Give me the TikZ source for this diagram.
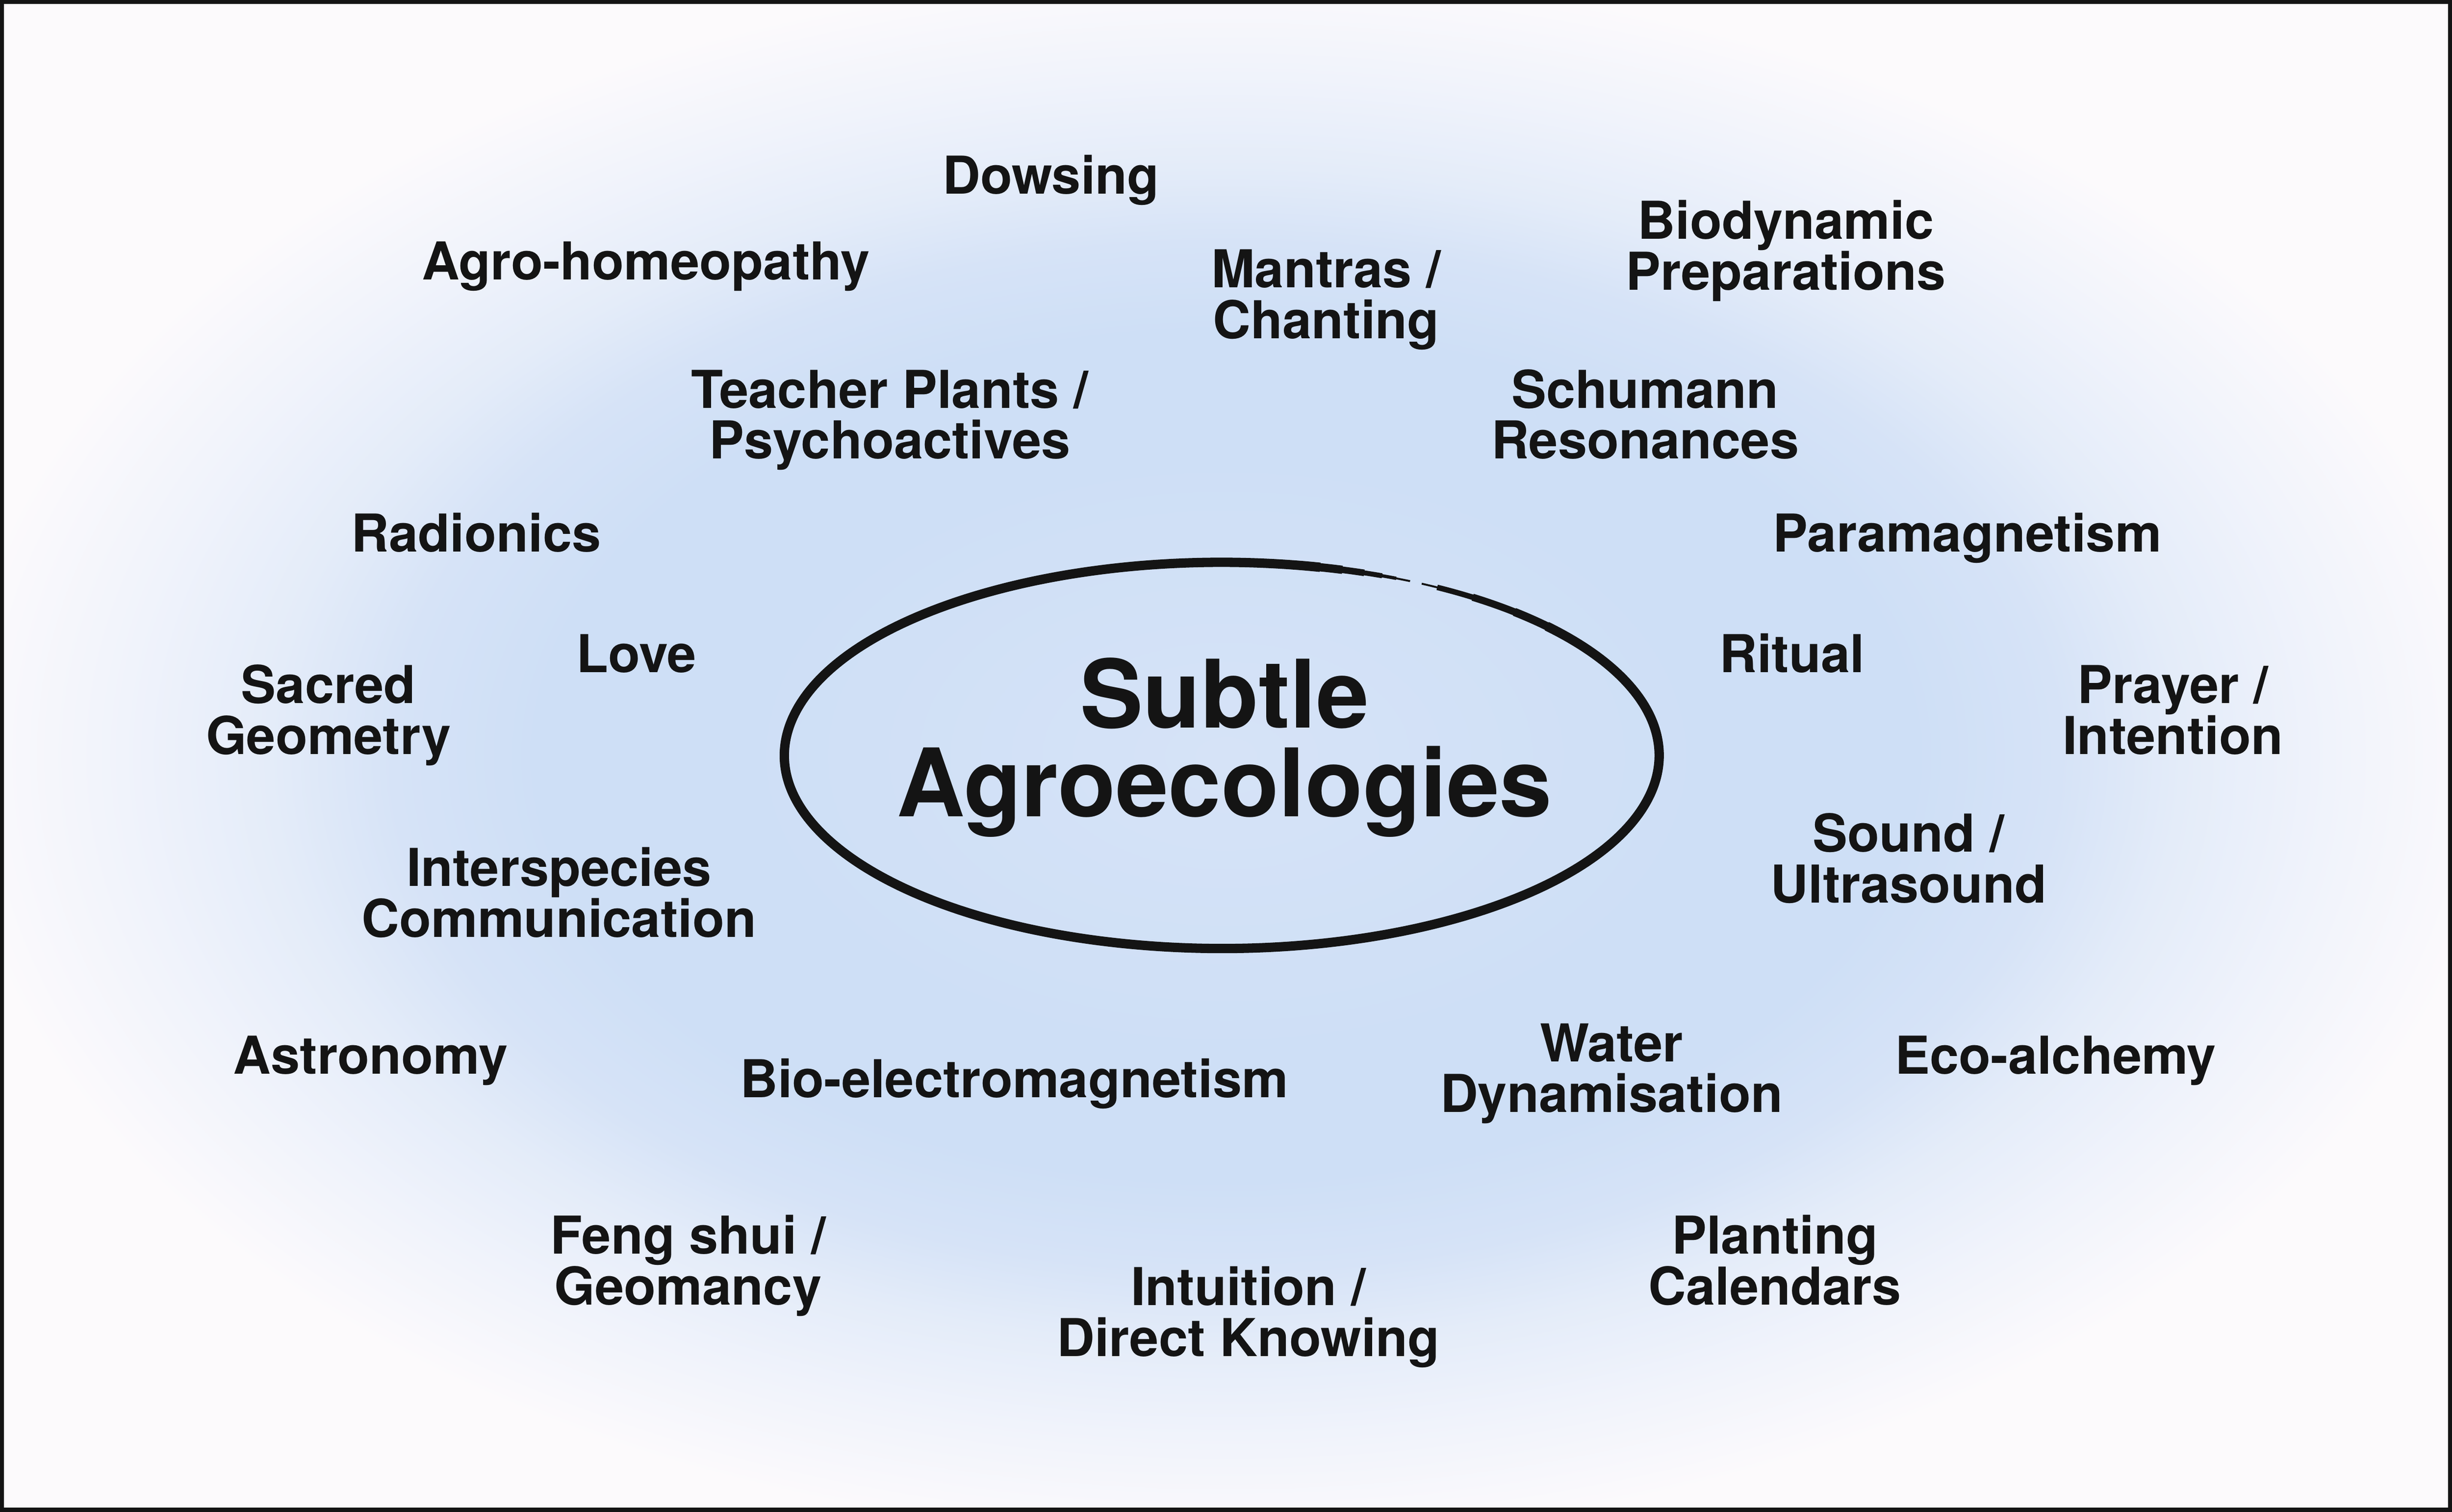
\documentclass[tikz,border=0pt]{standalone}
\usepackage{fontspec}
\setmainfont{TeX Gyre Heros}
\usetikzlibrary{calc}

\definecolor{paper}{RGB}{252,250,252}
\definecolor{ink}{RGB}{20,20,20}
\definecolor{cloudA}{RGB}{214,227,247}
\definecolor{cloudB}{RGB}{206,223,246}
\definecolor{cloudC}{RGB}{214,227,247}
\definecolor{cloudD}{RGB}{228,236,249}
\definecolor{cloudE}{RGB}{240,243,251}
\pgfdeclareradialshading{cloud}{\pgfpoint{0bp}{0bp}}{%
  color(0bp)=(cloudA); color(10bp)=(cloudB); color(14bp)=(cloudB);
  color(17bp)=(cloudC); color(19.5bp)=(cloudD); color(22.5bp)=(cloudE);
  color(26bp)=(paper); color(50bp)=(paper)}

\begin{document}
\begin{tikzpicture}[
    topic/.style={font=\fontsize{9.5}{9.25}\selectfont\bfseries,text=ink,align=center,inner sep=0pt,anchor=base},
    title/.style={font=\fontsize{17.2}{16.1}\selectfont\bfseries,text=ink,align=center,inner sep=0pt,anchor=base},
    ring/.style={ink,line width=1.7pt}
  ]
    \useasboundingbox (0,0) rectangle (15.68,9.67);

    % Paper, blue cloud and frame
    \fill[paper] (0,0) rectangle (15.68,9.67);
    \shade[shading=cloud] (0,0) rectangle (15.68,9.67);
    \draw[ink,line width=0.73pt] (0.013,0.013) rectangle (15.667,9.657);

    % Hand-drawn ellipse, open at the top right
    \coordinate (hub) at (7.813,4.838);
    \draw[ring] ($(hub)+(77:2.797cm and 1.235cm)$) arc[start angle=77,end angle=402,x radius=2.797,y radius=1.235];
    \foreach \to/\w in {74/1.5,71/1.2,68.5/0.9,66.5/0.6,64.5/0.35}
      \draw[ring,line width=\w pt] ($(hub)+(78:2.797cm and 1.235cm)$) arc[start angle=78,end angle=\to,x radius=2.797,y radius=1.235];
    \foreach \to/\w in {48/1.5,55/1.3,60.5/1.0,62.8/0.35}
      \draw[ring,line width=\w pt] ($(hub)+(41:2.797cm and 1.235cm)$) arc[start angle=41,end angle=\to,x radius=2.797,y radius=1.235];

    % Title (base = last line)
    \node[title] (subtle) at (7.83,4.448) {Subtle\\Agroecologies};

    % Topics round the ellipse, top to bottom
    \node[topic] (dowsing) at (6.72,8.43) {Dowsing};
    \node[topic] (homeopathy) at (4.13,7.88) {Agro-homeopathy};
    \node[topic] (mantras) at (8.48,7.505) {Mantras /\\Chanting};
    \node[topic] (biodynamic) at (11.42,7.815) {Biodynamic\\Preparations};
    \node[topic] (teacher) at (5.69,6.735) {Teacher Plants /\\Psychoactives};
    \node[topic] (schumann) at (10.52,6.735) {Schumann\\Resonances};
    \node[topic] (radionics) at (3.045,6.14) {Radionics};
    \node[topic] (paramag) at (12.58,6.14) {Paramagnetism};
    \node[topic] (love) at (4.07,5.37) {Love};
    \node[topic] (ritual) at (11.46,5.37) {Ritual};
    \node[topic] (sacred) at (2.10,4.845) {Sacred\\Geometry};
    \node[topic] (prayer) at (13.895,4.845) {Prayer /\\Intention};
    \node[topic] (sound) at (12.205,3.895) {Sound /\\Ultrasound};
    \node[topic] (interspecies) at (3.575,3.675) {Interspecies\\Communication};
    \node[topic] (astronomy) at (2.37,2.80) {Astronomy};
    \node[topic] (bioem) at (6.485,2.65) {Bio-electromagnetism};
    \node[topic] (water) at (10.305,2.555) {Water\\Dynamisation};
    \node[topic] (alchemy) at (13.145,2.80) {Eco-alchemy};
    \node[topic] (fengshui) at (4.40,1.325) {Feng shui /\\Geomancy};
    \node[topic] (planting) at (11.35,1.325) {Planting\\Calendars};
    \node[topic] (intuition) at (7.983,0.995) {Intuition /\\Direct Knowing};
  \end{tikzpicture}
\end{document}
